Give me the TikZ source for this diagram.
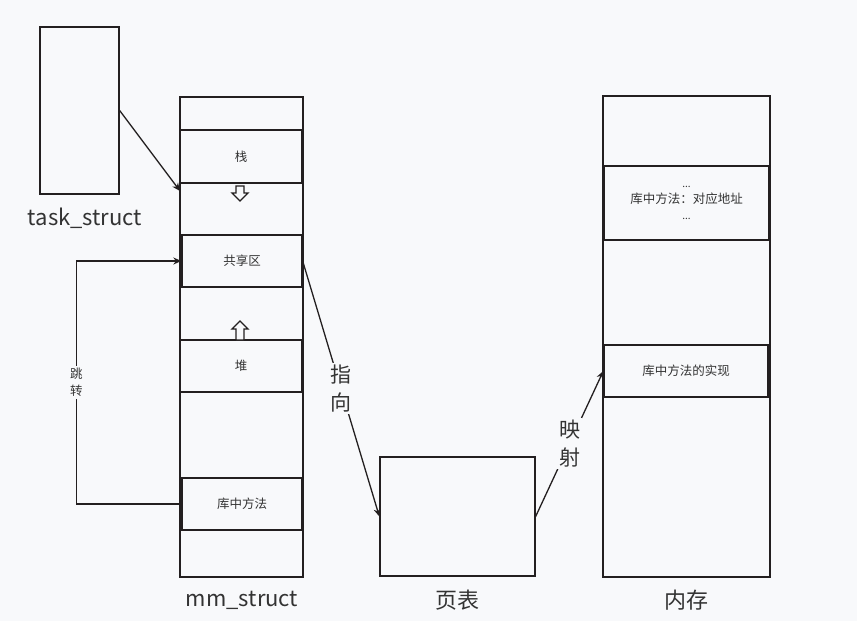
\documentclass[tikz,border=0pt]{standalone}
\usepackage{fontspec}
\setmainfont{Noto Sans CJK SC}
\usetikzlibrary{arrows.meta}
\definecolor{bg}{HTML}{F8F9FB}
\definecolor{ink}{HTML}{231F20}
\definecolor{txt}{HTML}{333333}
\tikzset{
  blk/.style={draw=ink, line width=1.3pt, inner sep=0pt, text=txt, font=\fontsize{12.5}{15}\selectfont},
  biglab/.style={text=txt, font=\fontsize{22}{26}\selectfont},
  conn/.style={draw=ink, line width=1.3pt, -{Stealth[length=8pt,width=7pt]}},
  vlab/.style={fill=bg, text=txt, align=center, inner sep=2pt},
  hollow/.style={draw=ink, line width=1.3pt, fill=bg}
}
\begin{document}
\begin{tikzpicture}[x=1pt,y=-1pt]
\useasboundingbox[fill=bg] (0,0) rectangle (857,621);
% task_struct
\node[blk, minimum width=79pt, minimum height=167pt] (task) at (79.5,110.5) {};
\node[biglab] (tasklab) at (85,218) {task\_struct};
% mm_struct
\node[blk, minimum width=123pt, minimum height=480pt] (mm) at (241.5,337) {};
\node[blk, minimum width=121pt, minimum height=53pt] (stack) at (241,156.5) {栈};
\node[blk, minimum width=120pt, minimum height=52pt] (share) at (242,261) {共享区};
\node[blk, minimum width=121pt, minimum height=52pt] (heap) at (241,366) {堆};
\node[blk, minimum width=120pt, minimum height=52pt] (lib) at (242,504) {库中方法};
\node[biglab] (mmlab) at (242,600) {mm\_struct};
% growth arrows
\draw[hollow] (236,186) -- (244,186) -- (244,193) -- (248,193) -- (240,201)
  -- (232,193) -- (236,193) -- cycle;
\draw[hollow] (240,321) -- (248,329) -- (244,329) -- (244,340) -- (236,340)
  -- (236,329) -- (232,329) -- cycle;
% page table
\node[blk, minimum width=155pt, minimum height=119pt] (pt) at (457.5,516.5) {};
\node[biglab] (ptlab) at (457,600) {页表};
% memory
\node[blk, minimum width=167pt, minimum height=481pt] (mem) at (686.5,336.5) {};
\node[blk, minimum width=165pt, minimum height=74pt, align=center] (addr) at (686.5,203)
  {{\fontsize{10}{10}\selectfont ...}\\[1pt] 库中方法：对应地址\\[1pt] {\fontsize{10}{10}\selectfont ...}};
\node[blk, minimum width=164pt, minimum height=52pt] (impl) at (686,371) {库中方法的实现};
\node[biglab] (memlab) at (686,600) {内存};
% connectors
\coordinate (mmin) at (180,191);
\draw[conn] (task.east) -- (mmin);
\draw[conn] (lib.west) -- ++(-105,0) |- (share.west)
  node[pos=0.25, vlab, font=\fontsize{12.5}{17}\selectfont] {跳\\转};
\draw[conn] (share.east) -- (pt.west)
  node[midway, vlab, font=\fontsize{21}{28}\selectfont] {指\\向};
\draw[conn] (pt.east) -- (impl.west)
  node[midway, vlab, font=\fontsize{21}{28}\selectfont] {映\\射};
\end{tikzpicture}
\end{document}
